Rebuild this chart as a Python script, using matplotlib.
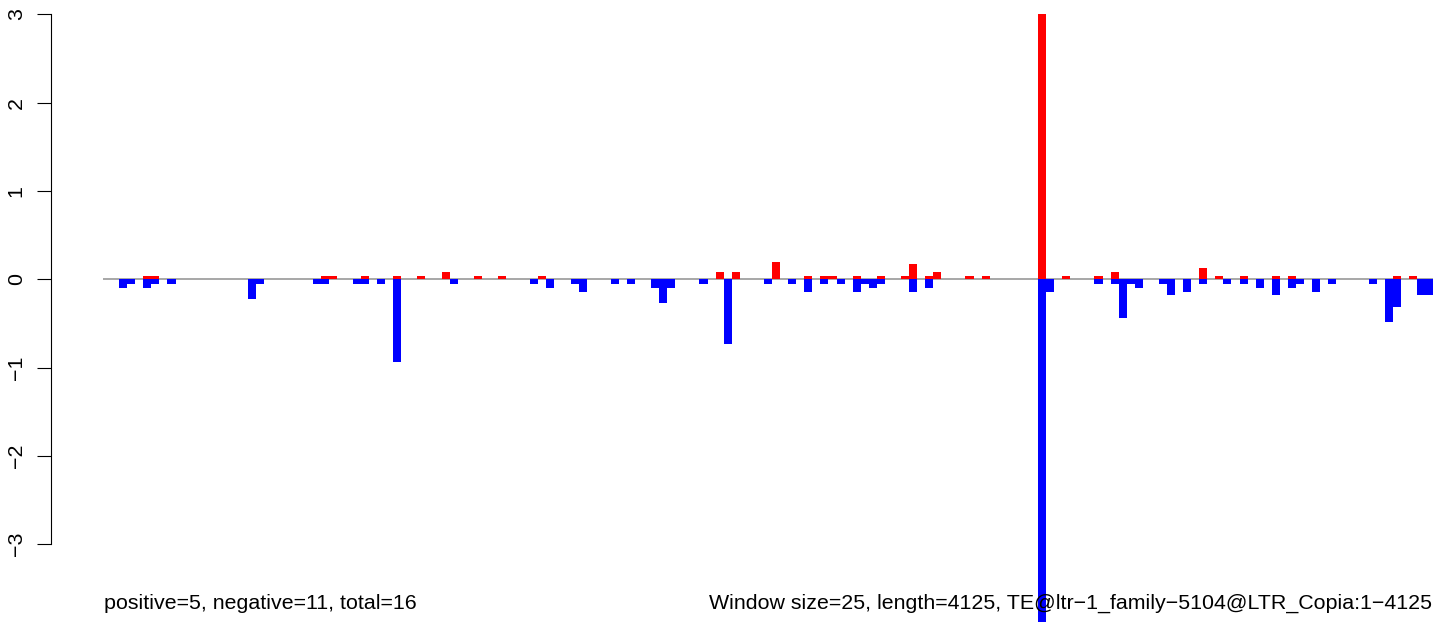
import matplotlib
matplotlib.use("Agg")
import matplotlib.pyplot as plt
import numpy as np

plt.rcParams['font.family'] = ['Liberation Sans', 'DejaVu Sans']

# window values (window size 25, length 4125 -> 165 windows)
positive = [
    0, 0, 0, 0, 0, 0.035, 0.035, 0, 0, 0,
    0, 0, 0, 0, 0, 0, 0, 0, 0, 0,
    0, 0, 0, 0, 0, 0, 0, 0.035, 0.035, 0,
    0, 0, 0.035, 0, 0, 0, 0.035, 0, 0, 0.035,
    0, 0, 0.08, 0, 0, 0, 0.035, 0, 0, 0.035,
    0, 0, 0, 0, 0.035, 0, 0, 0, 0, 0,
    0, 0, 0, 0, 0, 0, 0, 0, 0, 0,
    0, 0, 0, 0, 0, 0, 0.08, 0, 0.08, 0,
    0, 0, 0, 0.2, 0, 0, 0, 0.035, 0, 0.035,
    0.035, 0, 0, 0.035, 0, 0, 0.035, 0, 0, 0.035,
    0.17, 0, 0.035, 0.08, 0, 0, 0, 0.035, 0, 0.035,
    0, 0, 0, 0, 0, 0, 3.0, 0, 0, 0.035,
    0, 0, 0, 0.035, 0, 0.08, 0, 0, 0, 0,
    0, 0, 0, 0, 0, 0, 0.125, 0, 0.035, 0,
    0, 0.035, 0, 0, 0, 0.035, 0, 0.035, 0, 0,
    0, 0, 0, 0, 0, 0, 0, 0, 0, 0,
    0.035, 0, 0.035, 0, 0,
]
negative = [
    0, 0, -0.1, -0.05, 0, -0.1, -0.05, 0, -0.05, 0,
    0, 0, 0, 0, 0, 0, 0, 0, -0.22, -0.05,
    0, 0, 0, 0, 0, 0, -0.05, -0.05, 0, 0,
    0, -0.05, -0.05, 0, -0.05, 0, -0.94, 0, 0, 0,
    0, 0, 0, -0.05, 0, 0, 0, 0, 0, 0,
    0, 0, 0, -0.05, 0, -0.1, 0, 0, -0.05, -0.14,
    0, 0, 0, -0.05, 0, -0.05, 0, 0, -0.1, -0.27,
    -0.1, 0, 0, 0, -0.05, 0, 0, -0.73, 0, 0,
    0, 0, -0.05, 0, 0, -0.05, 0, -0.14, 0, -0.05,
    0, -0.05, 0, -0.14, -0.05, -0.1, -0.05, 0, 0, 0,
    -0.14, 0, -0.1, 0, 0, 0, 0, 0, 0, 0,
    0, 0, 0, 0, 0, 0, -4.0, -0.14, 0, 0,
    0, 0, 0, -0.05, 0, -0.05, -0.44, -0.05, -0.1, 0,
    0, -0.05, -0.18, 0, -0.14, 0, -0.05, 0, 0, -0.05,
    0, -0.05, 0, -0.1, 0, -0.18, 0, -0.1, -0.05, 0,
    -0.14, 0, -0.05, 0, 0, 0, 0, -0.05, 0, -0.48,
    -0.31, 0, 0, -0.18, -0.18,
]
y_ticks = [-3, -2, -1, 0, 1, 2, 3]
left_text = "positive=5, negative=11, total=16"
right_text = "Window size=25, length=4125, TE@ltr\u22121_family\u22125104@LTR_Copia:1\u22124125"

FS = 15.4
W, H = 1452, 622
fig = plt.figure(figsize=(W / 100, H / 100), dpi=100)
x0, x1 = 103, 1433
ax = fig.add_axes([x0 / W, 0, (x1 - x0) / W, 1])

zero_px = 279.3
ppu = 88.33
ax.set_ylim(-(H - zero_px) / ppu, zero_px / ppu)
n = len(positive)
ax.set_xlim(0, n)

idx = np.arange(n)
ax.axhline(0, color='#a0a0a0', lw=1.3, zorder=1)
ax.bar(idx, positive, width=1, align='edge', color='#ff0000', linewidth=0, zorder=2)
ax.bar(idx, negative, width=1, align='edge', color='#0000ff', linewidth=0, zorder=2)

for s in ['top', 'right', 'bottom']:
    ax.spines[s].set_visible(False)
ax.spines['left'].set_position(('outward', (x0 - 50.7) * 0.72))
ax.spines['left'].set_bounds(-3, 3)
ax.spines['left'].set_linewidth(0.8)
ax.set_xticks([])
ax.set_yticks(y_ticks)
ax.set_yticklabels([str(t).replace('-', '\u2212') for t in y_ticks], rotation=90, va='center', fontsize=FS)
ax.tick_params(axis='y', length=10, width=0.8, pad=8)
ax.patch.set_alpha(0)

fig.text(104 / W, (H - 609) / H, left_text, fontsize=FS, ha='left', va='baseline')
fig.text(1432 / W, (H - 609) / H, right_text, fontsize=FS, ha='right', va='baseline')

fig.savefig('out.png', dpi=100)
